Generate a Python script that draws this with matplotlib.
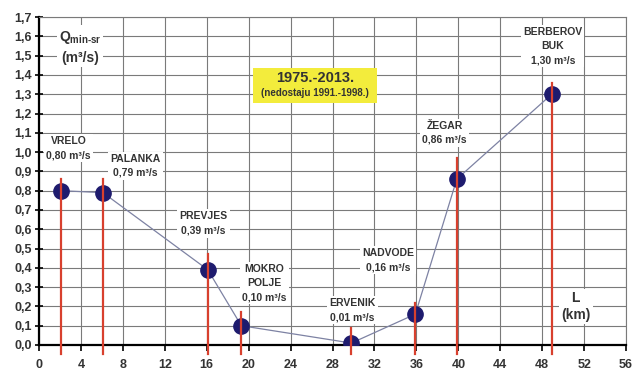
import matplotlib
matplotlib.use("Agg")
import matplotlib.pyplot as plt
from matplotlib.patches import Rectangle

# ---- data ----
stations = ["VRELO", "PALANKA", "PREVJES", "MOKRO\nPOLJE", "ERVENIK", "NADVODE", "ŽEGAR", "BERBEROV\nBUK"]
L_km = [2.1, 6.1, 16.1, 19.3, 29.8, 35.9, 39.85, 48.9]
Q_min = [0.80, 0.79, 0.39, 0.10, 0.01, 0.16, 0.86, 1.30]
red_top = [0.86, 0.86, 0.47, 0.17, 0.09, 0.22, 0.97, 1.36]
x_ticks = list(range(0, 57, 4))
y_ticks = [round(v * 0.1, 1) for v in range(0, 18)]
period_title = "1975.-2013."
period_note = "(nedostaju 1991.-1998.)"

# label placement (layout)
label_pos = [(2.8, 1.02), (9.2, 0.93), (15.7, 0.63), (21.5, 0.32), (29.9, 0.18),
             (33.3, 0.44), (38.7, 1.10), (49.0, 1.55)]

plt.rcParams['font.family'] = ['Liberation Sans', 'DejaVu Sans']
plt.rcParams['mathtext.fontset'] = 'custom'
plt.rcParams['mathtext.rm'] = 'Liberation Sans:bold'
plt.rcParams['mathtext.it'] = 'Liberation Sans:bold'
plt.rcParams['mathtext.bf'] = 'Liberation Sans:bold'

fig = plt.figure(figsize=(6.35, 3.72), dpi=100)
ax = fig.add_axes([0.0614, 0.0726, 0.9246, 0.8814])
ax.set_xlim(0, 56)
ax.set_ylim(0, 1.7)

txt_col = "#333333"
ax.set_xticks(x_ticks)
ax.set_yticks(y_ticks)
ax.set_xticklabels([str(v) for v in x_ticks], fontsize=9, fontweight='bold', color=txt_col)
ax.set_yticklabels([f"{v:.1f}".replace('.', ',') for v in y_ticks], fontsize=9, fontweight='bold', color=txt_col)
ax.grid(True, color="#7a7a7a", lw=0.8, zorder=0)
ax.set_axisbelow(True)
for s in ['top', 'right']:
    ax.spines[s].set_color("#7a7a7a")
    ax.spines[s].set_linewidth(0.8)
for s in ['left', 'bottom']:
    ax.spines[s].set_color("black")
    ax.spines[s].set_linewidth(1.6)
ax.tick_params(axis='y', direction='inout', length=6, width=1.2, pad=2)
ax.tick_params(axis='x', direction='out', length=4, width=1.2, pad=6)

# connecting line and markers
ax.plot(L_km, Q_min, color="#7d82a3", lw=0.9, zorder=3)
ax.plot(L_km, Q_min, 'o', color="#1e1b6e", ms=11, zorder=4)
# red vertical lines
for x, t in zip(L_km, red_top):
    ax.plot([x, x], [-0.045, t], color="#d8402e", lw=1.6, zorder=5, clip_on=False)

bbox = dict(facecolor='white', edgecolor='none', pad=1.5)
for name, q, (lx, ly) in zip(stations, Q_min, label_pos):
    s = f"{name}\n" + f"{q:.2f}".replace('.', ',') + " m³/s"
    ax.text(lx, ly, s, ha='center', va='center', fontsize=7.5, fontweight='bold',
            color=txt_col, bbox=bbox, linespacing=1.5, zorder=6)

ax.text(3.9, 1.545, "Q$_{\\mathrm{min\\text{-}sr}}$\n(m³/s)", ha='center', va='center',
        fontsize=10, fontweight='bold', color=txt_col, bbox=bbox, linespacing=1.45, zorder=6)
ax.text(51.2, 0.20, "L\n(km)", ha='center', va='center', fontsize=10, fontweight='bold',
        color=txt_col, bbox=bbox, linespacing=1.3, zorder=6)

ax.add_patch(Rectangle((20.4, 1.255), 11.85, 0.18, facecolor='#f3ec3c', edgecolor='none', zorder=6))
ax.text(26.3, 1.385, period_title, ha='center', va='center', fontsize=10.5,
        fontweight='bold', color=txt_col, zorder=7)
ax.text(26.3, 1.305, period_note, ha='center', va='center', fontsize=7,
        fontweight='bold', color=txt_col, zorder=7)

fig.savefig("out.png", dpi=100)
